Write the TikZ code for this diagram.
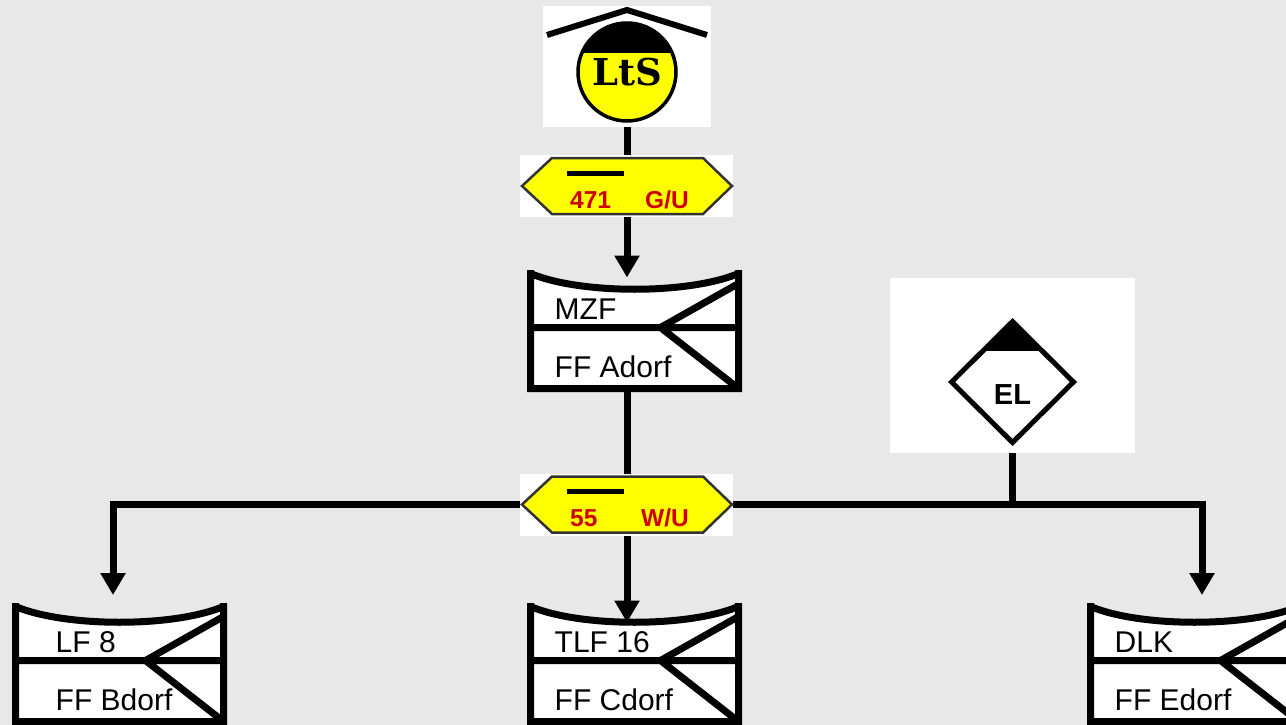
\documentclass[tikz,border=0pt]{standalone}
\usepackage{fontspec}
\setmainfont{Liberation Sans}
\newfontfamily\logofont{DejaVu Serif}
\usetikzlibrary{arrows.meta,shapes.geometric}
\pgfdeclarelayer{background}
\pgfsetlayers{background,main}

\definecolor{paper}{HTML}{E8E8E8}
\definecolor{signyellow}{HTML}{FFFF00}
\definecolor{signred}{HTML}{CC0000}

% vehicle: [text inset] name, top left corner, upper text, lower text
\newcommand{\fahrzeug}[5][24]{%
  \begin{scope}[shift={(#3)}]
    \fill[white] (0,0) .. controls (50,21) and (158,21) .. (208,0) -- (208,115) -- (0,115) -- cycle;
    \draw[veh line] (0,-3.5) -- (0,115) -- (208,115) -- (208,-3.5)
                    (0,0) .. controls (50,21) and (158,21) .. (208,0)
                    (0,54) -- (208,54)
                    (208,10) -- (130,54) -- (208,115);
    \node[veh text] (#2 top) at (#1,46) {#4};
    \node[veh text] (#2 bottom) at (#1,104) {#5};
    \coordinate (#2) at (104,16);
    \coordinate (#2 foot) at (104,115);
  \end{scope}}

% yellow sign: name, centre, number, code
\newcommand{\schild}[4]{%
  \begin{scope}[shift={(#2)}]
    \fill[white] (-107,-31) rectangle (106,31);
    \draw[sign line] (-105,0) -- (-75,-28) -- (76,-28) -- (105,0) -- (76,28) -- (-75,28) -- cycle;
    \draw[line width=5pt] (-60,-13) -- (-3,-13);
    \node[sign text,anchor=base west] (#1 num) at (-57,22) {#3};
    \node[sign text,anchor=base east] (#1 code) at (62,22) {#4};
    \node[inner sep=0pt,minimum width=210pt,minimum height=56pt] (#1) at (0,0) {};
  \end{scope}}

\begin{document}
\begin{tikzpicture}[x=1pt,y=-1pt,>={Triangle[length=22pt,width=24pt]},
                    conn/.style={line width=7pt},
                    veh line/.style={line width=7pt},
                    veh text/.style={anchor=base west,inner sep=0pt,font=\fontsize{30}{30}\selectfont},
                    sign line/.style={draw=black!80,fill=signyellow,line width=2.5pt},
                    sign text/.style={inner sep=0pt,text=signred,font=\fontsize{24.5}{24.5}\selectfont\bfseries},
                    white box/.style={fill=white,inner sep=0pt}]
  \useasboundingbox (0,0) rectangle (1286,725);
  \clip (0,0) rectangle (1286,725);

  % logo
  \node[white box,minimum width=168pt,minimum height=121pt] (logo) at (627,66.5) {};
  \draw[line width=6pt] (547,35) -- (627,10) -- (707,35);
  \node[circle,draw,line width=3.5pt,fill=signyellow,minimum size=98pt,inner sep=0pt,
        path picture={\fill[black] (path picture bounding box.north west) rectangle ([yshift=-30pt]path picture bounding box.north east);},
        font=\logofont\bfseries\fontsize{37}{37}\selectfont] (lts) at (627,72) {LtS};

  \schild{s471}{627,186}{471}{G/U}
  \schild{s55}{627,504.5}{55}{W/U}

  % einsatzleitung
  \node[white box,minimum width=245pt,minimum height=175pt] (elbg) at (1012.5,365.5) {};
  \node[diamond,aspect=1,draw,line width=5pt,minimum width=124pt,minimum height=123pt,inner sep=0pt,
        path picture={\fill[black] (path picture bounding box.north west) rectangle ([yshift=-29pt]path picture bounding box.north east);}]
        (el) at (1012.5,382) {};
  \node[anchor=base,inner sep=0pt,font=\fontsize{29}{29}\selectfont\bfseries] (el text) at (1012.5,404) {EL};

  \fahrzeug{mzf}{530.5,273.5}{MZF}{FF Adorf}
  \fahrzeug[40]{lf}{15.5,606.5}{LF 8}{FF Bdorf}
  \fahrzeug{tlf}{530.5,606.5}{TLF 16}{FF Cdorf}
  \fahrzeug{dlk}{1090.5,606.5}{DLK}{FF Edorf}

  \coordinate (lf in) at (113,595);
  \coordinate (dlk in) at (1202,595);

  \begin{pgfonlayer}{background}
    \fill[paper] (0,0) rectangle (1286,725);
    \draw[conn] (logo.south) -- (s471.north);
    \draw[conn,->,shorten >=12pt] (s471.south) -- (s471.south |- mzf);
    \draw[conn] (s55.north |- mzf foot) -- (s55.north);
    \draw[conn,->] (s55.south) -- (s55.south |- tlf);
    \draw[conn,->] (s55.west) -| (lf in);
    \draw[conn,->] (s55.east) -| (dlk in);
    \draw[conn] (elbg.south) -- (elbg.south |- s55.east);
  \end{pgfonlayer}
\end{tikzpicture}
\end{document}
